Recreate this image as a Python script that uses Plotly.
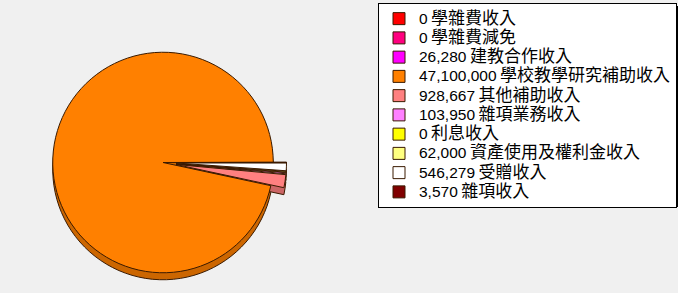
import plotly.graph_objects as go

categories = ["學雜費收入", "學雜費減免", "建教合作收入", "學校教學研究補助收入", "其他補助收入",
              "雜項業務收入", "利息收入", "資產使用及權利金收入", "受贈收入", "雜項收入"]
amounts = [0, 0, 26280, 47100000, 928667, 103950, 0, 62000, 546279, 3570]
colors = ["#FF0000", "#FF0080", "#FF00FF", "#FF8000", "#FF8080",
          "#FF80FF", "#FFFF00", "#FFFF80", "#FFFFFF", "#800000"]

W, H = 678, 293


def darken(hex_color, f=0.8):
    h = hex_color.lstrip("#")
    r, g, b = (int(h[i:i + 2], 16) for i in (0, 2, 4))
    return "#%02X%02X%02X" % (int(r * f), int(g * f), int(b * f))


labels = [f"<span style='font-size:15.5px'>{v:,}</span> <span style='font-size:17px'>{c}</span>"
          for v, c in zip(amounts, categories)]
pulls = [0.12 if v < 1000000 else 0 for v in amounts]

depth = 7 / H
top_dom = [1 - 286 / H, 1 - 39 / H]
x_dom = [39 / W, 287 / W]

fig = go.Figure()
# pie "thickness" (darker copy, shifted down)
fig.add_trace(go.Pie(
    labels=labels, values=amounts, sort=False,
    direction="counterclockwise", rotation=90, pull=pulls,
    marker=dict(colors=[darken(c) for c in colors], line=dict(color="#3a1a00", width=1)),
    textinfo="none", hoverinfo="skip", showlegend=False,
    domain=dict(x=x_dom, y=[top_dom[0] - depth, top_dom[1] - depth]),
))
fig.add_trace(go.Pie(
    labels=labels,
    values=amounts,
    sort=False,
    direction="counterclockwise",
    rotation=90,
    pull=pulls,
    marker=dict(colors=colors, line=dict(color="#3a1a00", width=1)),
    textinfo="none",
    hoverinfo="label+percent",
    domain=dict(x=x_dom, y=top_dom),
))

# legend drop shadow
fig.add_shape(type="rect", xref="paper", yref="paper",
              x0=381 / W, x1=678 / W, y0=1 - 207 / H, y1=1 - 6 / H,
              fillcolor="#000000", line=dict(width=0), layer="below")

fig.update_layout(
    width=W, height=H,
    margin=dict(l=0, r=0, t=0, b=0),
    paper_bgcolor="#F0F0F0",
    plot_bgcolor="#F0F0F0",
    font=dict(family="Arial, 'Noto Sans CJK TC', sans-serif", size=12.5, color="#000000"),
    legend=dict(
        x=378 / W, y=1 - 3 / H, xanchor="left", yanchor="top",
        bgcolor="#FFFFFF", bordercolor="#000000", borderwidth=1,
        tracegroupgap=0, itemwidth=30,
        font=dict(size=12.5),
    ),
)

fig.write_html("out.html", config={"displayModeBar": False},
               post_script="document.body.style.margin='0';document.body.style.background='#F0F0F0';")
